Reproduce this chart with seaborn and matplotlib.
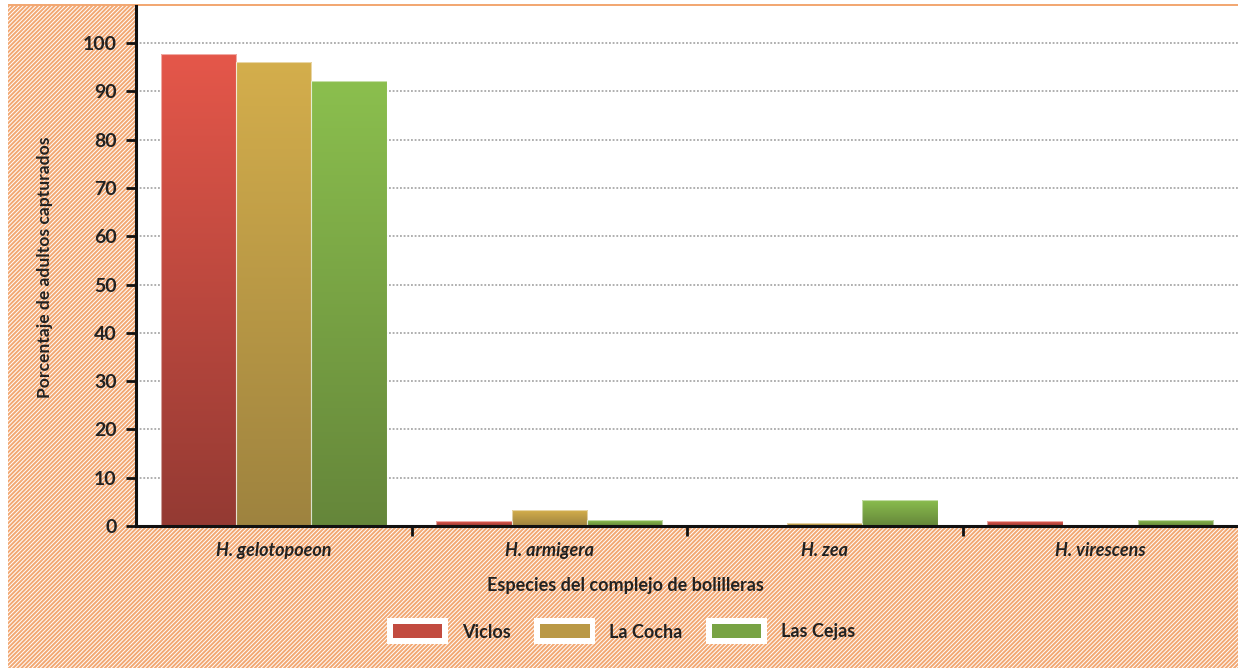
import numpy as np
import pandas as pd
import matplotlib
matplotlib.use("Agg")
import matplotlib.pyplot as plt
import matplotlib.colors as mcolors
from matplotlib.patches import Rectangle
from matplotlib.legend_handler import HandlerBase
import seaborn as sns

# ---- data ----
species = ["H. gelotopoeon", "H. armigera", "H. zea", "H. virescens"]
sites = ["Viclos", "La Cocha", "Las Cejas"]
viclos = [97.8, 1.0, 0.0, 1.0]
la_cocha = [96.0, 3.3, 0.6, 0.0]
las_cejas = [92.1, 1.2, 5.4, 1.3]
yticks = [0, 10, 20, 30, 40, 50, 60, 70, 80, 90, 100]

top_colors = ["#E5574A", "#D4AE4C", "#8BBF4E"]
bot_colors = ["#943A33", "#9E833F", "#65863A"]
mid_colors = ["#C24B40", "#BA9946", "#78A344"]

df = pd.DataFrame({
    "species": species * 3,
    "site": np.repeat(sites, len(species)),
    "value": viclos + la_cocha + las_cejas,
})

sns.set_theme(style="white")
plt.rcParams["font.family"] = ["Lato", "DejaVu Sans"]
plt.rcParams["hatch.color"] = "white"
plt.rcParams["hatch.linewidth"] = 0.7

fig = plt.figure(figsize=(12.38, 6.68), dpi=100)
fig.patch.set_facecolor("white")
# hatched orange backdrop
bg = Rectangle((8 / 1238, 0), 1 - 8 / 1238, 1 - 4 / 668, transform=fig.transFigure,
               facecolor="#F2A873", edgecolor="white", hatch="////////", linewidth=0,
               zorder=-10)
fig.patches.append(bg)
topline = Rectangle((8 / 1238, 1 - 6 / 668), 1 - 8 / 1238, 2.5 / 668,
                    transform=fig.transFigure, facecolor="#F2A873",
                    edgecolor="none", zorder=-9)
fig.patches.append(topline)

ax = fig.add_axes([136 / 1238, 1 - 526 / 668, 1 - 136 / 1238, (526 - 6) / 668])
ax.set_facecolor("white")

sns.barplot(data=df, x="species", y="value", hue="site", hue_order=sites,
            order=species, palette=mid_colors, width=0.82, ax=ax,
            edgecolor=(1, 1, 1, 0.5), linewidth=0.8, legend=False, zorder=3)

# gradient fill, clipped to each bar
for i, cont in enumerate(ax.containers):
    cmap = mcolors.LinearSegmentedColormap.from_list(
        f"g{i}", [bot_colors[i], top_colors[i]])
    for bar in cont:
        h = bar.get_height()
        if h <= 0:
            bar.set_visible(False)
            continue
        x0 = bar.get_x()
        w = bar.get_width()
        grad = np.linspace(0, 1, 256).reshape(-1, 1)
        im = ax.imshow(grad, cmap=cmap, origin="lower", aspect="auto",
                       extent=[x0, x0 + w, 0, h], zorder=3.5)
        im.set_clip_path(bar)
        bar.set_facecolor("none")
        bar.set_zorder(4)

ax.set_xlim(-0.5, 3.5)
ax.set_ylim(0, 107.7)
ax.set_yticks(yticks)
ax.set_yticklabels([str(t) for t in yticks], fontsize=14, fontweight="bold",
                   color="#222222")
for t in yticks[1:]:
    ax.axhline(t, color="#9a9a9a", linestyle=(0, (1.2, 1.2)), linewidth=1.1,
               zorder=1)

ax.set_xticks([0.5, 1.5, 2.5])
ax.set_xticklabels([])
ax.tick_params(axis="x", direction="out", length=7, width=2, color="#111111",
               bottom=True)
ax.tick_params(axis="y", direction="out", length=7, width=2, color="#111111",
               left=True, pad=7)
for i, sp in enumerate(species):
    ax.text(i, -5, sp, ha="center", va="center", fontsize=13,
            fontweight="bold", fontstyle="italic", color="#222222",
            transform=ax.transData, clip_on=False)

for s in ["top", "right"]:
    ax.spines[s].set_visible(False)
for s in ["left", "bottom"]:
    ax.spines[s].set_color("#111111")
    ax.spines[s].set_linewidth(2.2)
    ax.spines[s].set_zorder(6)

ax.set_xlabel("")
ax.set_ylabel("")
fig.text(625 / 1238, 1 - 585 / 668, "Especies del complejo de bolilleras",
         ha="center", va="center", fontsize=13, fontweight="bold",
         color="#222222")
fig.text(45 / 1238, 1 - 267 / 668, "Porcentaje de adultos capturados",
         ha="center", va="center", rotation=90, fontsize=12.6,
         fontweight="bold", color="#222222")


class GradHandler(HandlerBase):
    def __init__(self, idx):
        super().__init__()
        self.idx = idx

    def create_artists(self, legend, orig_handle, xdescent, ydescent, width,
                       height, fontsize, trans):
        outer = Rectangle((-xdescent - 4, -ydescent - 4), width + 8, height + 8,
                          facecolor="white", edgecolor="none", transform=trans)
        inner = Rectangle((-xdescent, -ydescent), width, height,
                          facecolor=mid_colors[self.idx], edgecolor="none",
                          transform=trans)
        return [outer, inner]


handles = [Rectangle((0, 0), 1, 1, facecolor=c) for c in mid_colors]
leg = fig.legend(handles, sites, loc="center",
                 bbox_to_anchor=(624 / 1238, 1 - 632 / 668),
                 ncol=3, frameon=False, handlelength=2.75, handleheight=0.85,
                 handletextpad=1.1, columnspacing=1.6,
                 handler_map={handles[i]: GradHandler(i) for i in range(3)},
                 prop={"size": 13, "weight": "bold"})
for t in leg.get_texts():
    t.set_color("#222222")

fig.savefig("out.png", dpi=100)
